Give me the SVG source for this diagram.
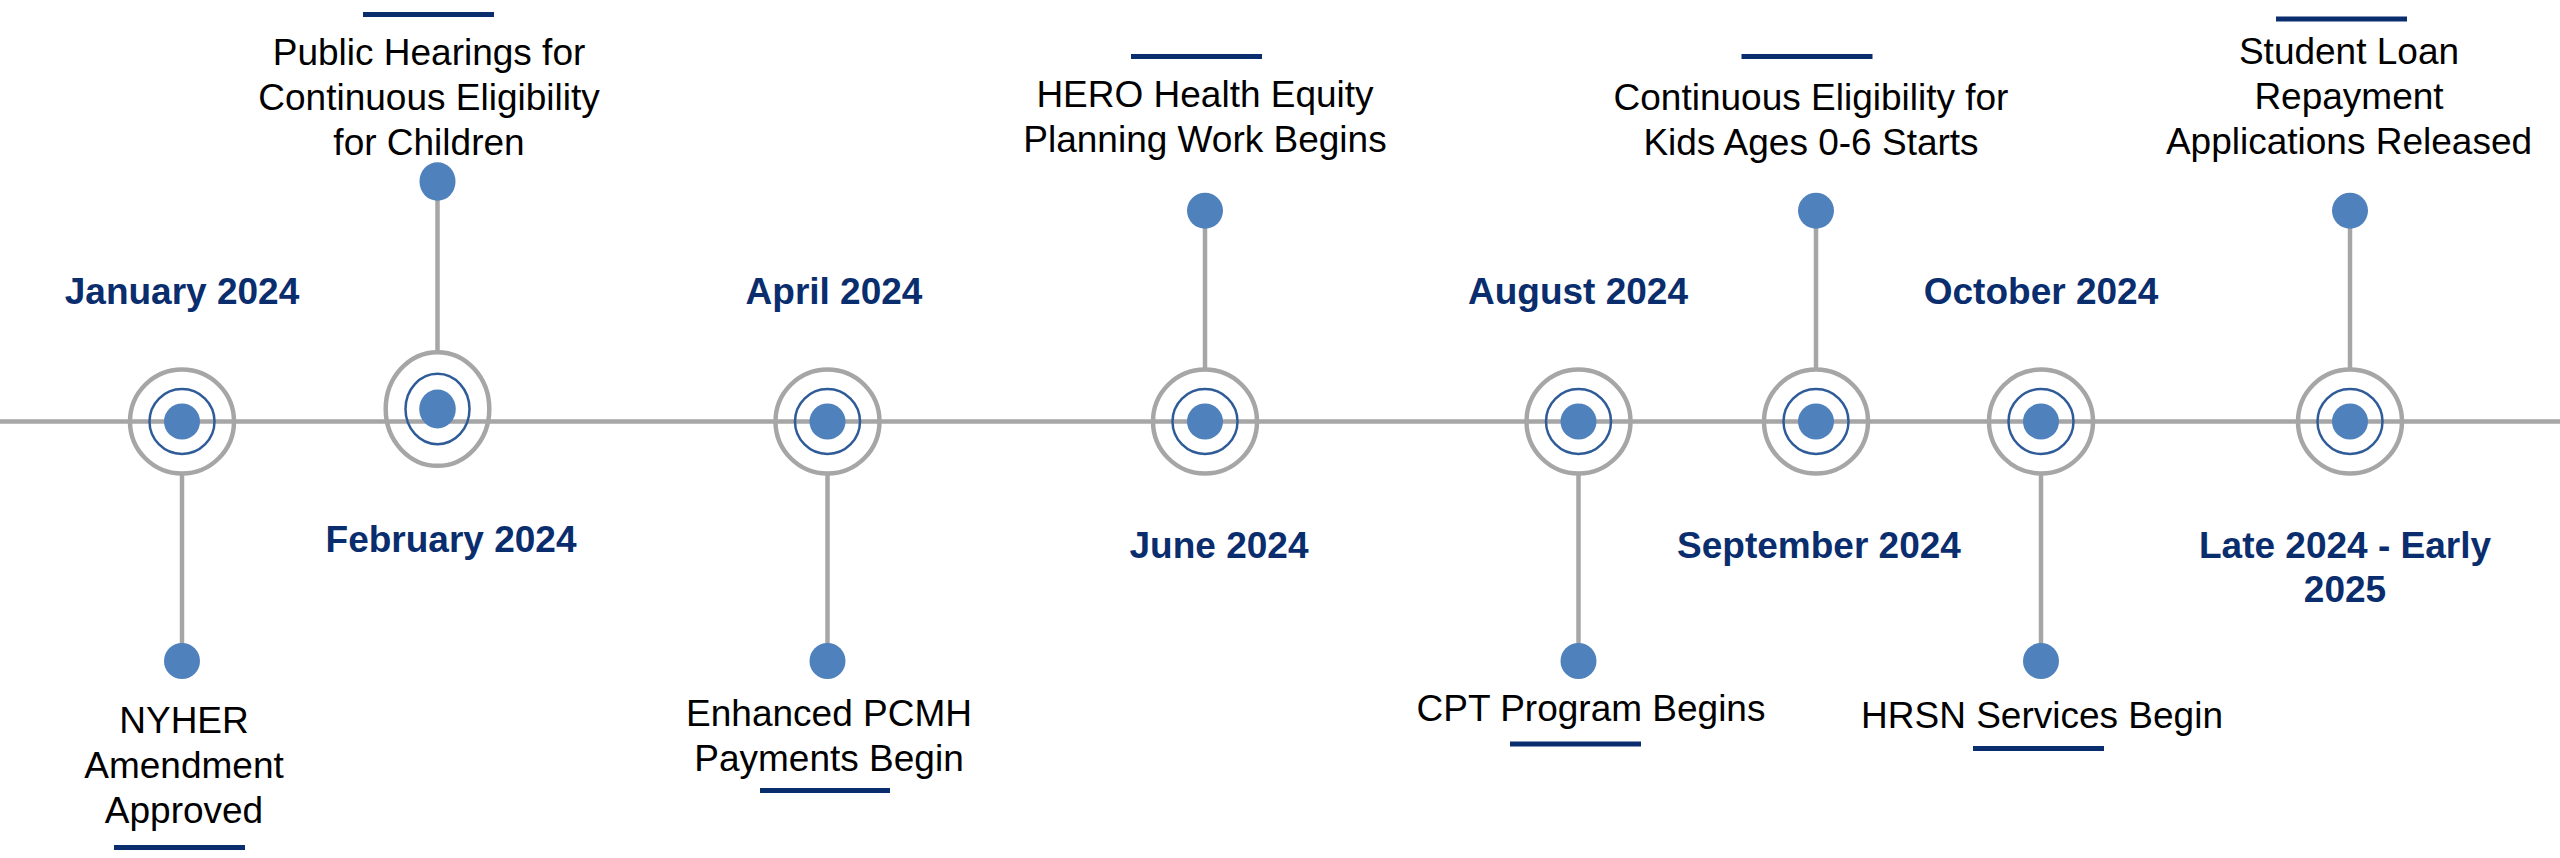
<svg xmlns="http://www.w3.org/2000/svg" width="2560" height="858" viewBox="0 0 2560 858">
<style>
.bg{fill:#ffffff}
.line{stroke:#A6A6A6;stroke-width:4.5;fill:none}
.stem{stroke:#A6A6A6;stroke-width:4.5;fill:none}
.outer{stroke:#A6A6A6;stroke-width:4.5;fill:none}
.ring{stroke:#2F5C98;stroke-width:2.5;fill:none}
.dot{fill:#4F81BD}
.bar{fill:#0A2D6E}
.lbl{font-family:"Liberation Sans",Arial,sans-serif;font-size:37px;fill:#000000;text-anchor:middle}
.date{font-family:"Liberation Sans",Arial,sans-serif;font-size:37px;font-weight:bold;fill:#0A2D6E;text-anchor:middle}
</style>
<rect class="bg" x="0" y="0" width="2560" height="858"/>
<g id="connectors">
<line class="line" x1="0" y1="421.5" x2="2560" y2="421.5"/>
<line class="stem" x1="182" y1="475" x2="182" y2="645"/>
<line class="stem" x1="437.5" y1="200" x2="437.5" y2="351"/>
<line class="stem" x1="827.5" y1="475" x2="827.5" y2="645"/>
<line class="stem" x1="1205" y1="228" x2="1205" y2="368"/>
<line class="stem" x1="1578.5" y1="475" x2="1578.5" y2="645"/>
<line class="stem" x1="1816" y1="228" x2="1816" y2="368"/>
<line class="stem" x1="2041" y1="475" x2="2041" y2="645"/>
<line class="stem" x1="2350" y1="228" x2="2350" y2="368"/>
</g>
<g id="node-jan">
<circle class="outer" cx="182" cy="421.5" r="52"/>
<circle class="ring" cx="182" cy="421.5" r="32.5"/>
<circle class="dot" cx="182" cy="421.5" r="18"/>
<circle class="dot" cx="182" cy="661" r="18"/>
<text class="date" x="182" y="304">January 2024</text>
<text class="lbl" x="184" y="733">NYHER</text>
<text class="lbl" x="184" y="778">Amendment</text>
<text class="lbl" x="184" y="823">Approved</text>
<rect class="bar" x="114" y="845" width="131" height="5"/>
</g>
<g id="node-feb">
<ellipse class="outer" cx="437.5" cy="409" rx="51.8" ry="56.8"/>
<ellipse class="ring" cx="437.5" cy="409" rx="32" ry="35.2"/>
<ellipse class="dot" cx="437.5" cy="409" rx="18.3" ry="19.5"/>
<ellipse class="dot" cx="437.5" cy="181.5" rx="18" ry="19.3"/>
<text class="date" x="451" y="552">February 2024</text>
<text class="lbl" x="429" y="65">Public Hearings for</text>
<text class="lbl" x="429" y="110">Continuous Eligibility</text>
<text class="lbl" x="429" y="155">for Children</text>
<rect class="bar" x="363" y="12" width="131" height="5"/>
</g>
<g id="node-apr">
<circle class="outer" cx="827.5" cy="421.5" r="52"/>
<circle class="ring" cx="827.5" cy="421.5" r="32.5"/>
<circle class="dot" cx="827.5" cy="421.5" r="18"/>
<circle class="dot" cx="827.5" cy="661" r="18"/>
<text class="date" x="834" y="304">April 2024</text>
<text class="lbl" x="829" y="726">Enhanced PCMH</text>
<text class="lbl" x="829" y="771">Payments Begin</text>
<rect class="bar" x="760" y="788" width="130" height="5"/>
</g>
<g id="node-jun">
<circle class="outer" cx="1205" cy="421.5" r="52"/>
<circle class="ring" cx="1205" cy="421.5" r="32.5"/>
<circle class="dot" cx="1205" cy="421.5" r="18"/>
<circle class="dot" cx="1205" cy="210.7" r="18"/>
<text class="date" x="1219" y="558">June 2024</text>
<text class="lbl" x="1205" y="107">HERO Health Equity</text>
<text class="lbl" x="1205" y="152">Planning Work Begins</text>
<rect class="bar" x="1131" y="54" width="131" height="5"/>
</g>
<g id="node-aug">
<circle class="outer" cx="1578.5" cy="421.5" r="52"/>
<circle class="ring" cx="1578.5" cy="421.5" r="32.5"/>
<circle class="dot" cx="1578.5" cy="421.5" r="18"/>
<circle class="dot" cx="1578.5" cy="661" r="18"/>
<text class="date" x="1578" y="304">August 2024</text>
<text class="lbl" x="1591" y="721">CPT Program Begins</text>
<rect class="bar" x="1510" y="741.5" width="131" height="5"/>
</g>
<g id="node-sep">
<circle class="outer" cx="1816" cy="421.5" r="52"/>
<circle class="ring" cx="1816" cy="421.5" r="32.5"/>
<circle class="dot" cx="1816" cy="421.5" r="18"/>
<circle class="dot" cx="1816" cy="210.7" r="18"/>
<text class="date" x="1819" y="558">September 2024</text>
<text class="lbl" x="1811" y="110">Continuous Eligibility for</text>
<text class="lbl" x="1811" y="155">Kids Ages 0-6 Starts</text>
<rect class="bar" x="1741.5" y="54" width="131" height="5"/>
</g>
<g id="node-oct">
<circle class="outer" cx="2041" cy="421.5" r="52"/>
<circle class="ring" cx="2041" cy="421.5" r="32.5"/>
<circle class="dot" cx="2041" cy="421.5" r="18"/>
<circle class="dot" cx="2041" cy="661" r="18"/>
<text class="date" x="2041" y="304">October 2024</text>
<text class="lbl" x="2042" y="728">HRSN Services Begin</text>
<rect class="bar" x="1973" y="746" width="131" height="5"/>
</g>
<g id="node-late">
<circle class="outer" cx="2350" cy="421.5" r="52"/>
<circle class="ring" cx="2350" cy="421.5" r="32.5"/>
<circle class="dot" cx="2350" cy="421.5" r="18"/>
<circle class="dot" cx="2350" cy="210.7" r="18"/>
<text class="date" x="2345" y="558">Late 2024 - Early</text>
<text class="date" x="2345" y="602">2025</text>
<text class="lbl" x="2349" y="64">Student Loan</text>
<text class="lbl" x="2349" y="109">Repayment</text>
<text class="lbl" x="2349" y="154">Applications Released</text>
<rect class="bar" x="2276" y="16.5" width="131" height="5"/>
</g>
</svg>
